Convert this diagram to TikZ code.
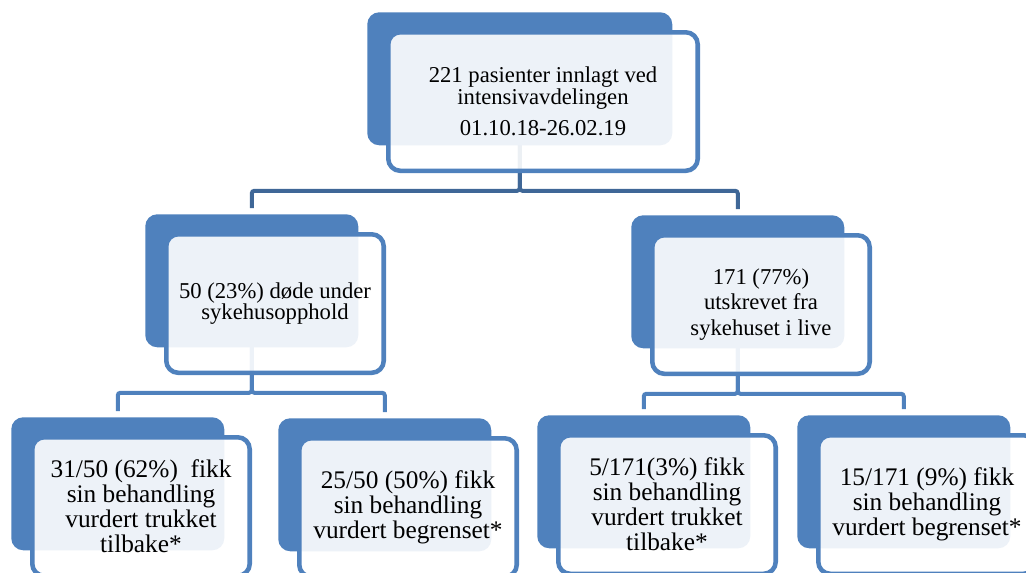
\documentclass[tikz,border=0pt]{standalone}
\usepackage{fontspec}
\setmainfont{Liberation Serif}
\usetikzlibrary{positioning,calc,backgrounds}
\definecolor{smblue}{RGB}{79,129,189}
\definecolor{lnkdark}{RGB}{63,103,151}

\begin{document}
\begin{tikzpicture}[x=0.75pt, y=-0.75pt,
	back/.style={fill=smblue, rounded corners=9pt, inner sep=0pt, minimum height=99.75pt, minimum width=159.75pt, anchor=north west},
	front/.style={draw=smblue, line width=3.4pt, fill=white, fill opacity=0.9, text opacity=1, rounded corners=9pt, inner sep=0pt, minimum height=103.9pt, minimum width=163.1pt, anchor=north west, align=center},
	link/.style={draw=smblue, line width=3pt, rounded corners=2pt, shorten >=4.5pt}]
		\useasboundingbox (0,0) rectangle (1026,572);
		\clip (0,0) rectangle (1026,572);
		\node[back, minimum width=228.75pt] (tb) at (367,12) {};
		\node[front, minimum width=232.1pt, font=\fontsize{17}{15}\selectfont] (t) at ($(tb.north west)+(19,18)$) {221 pasienter innlagt ved\\intensivavdelingen\\[8pt]01.10.18-26.02.19};
		\node[back] (lb) at (145,214) {};
		\node[front, font=\fontsize{17}{16.3}\selectfont] (l) at ($(lb.north west)+(19,18)$) {50 (23\%) døde under\\sykehusopphold};
		\node[back] (rb) at (631,215) {};
		\node[front, font=\fontsize{17}{19}\selectfont] (r) at ($(rb.north west)+(19,18)$) {171 (77\%)\\utskrevet fra\\sykehuset i live};
		\node[back] (ab) at (11,417) {};
		\node[front, font=\fontsize{19}{18.75}\selectfont] (a) at ($(ab.north west)+(19,18)$) {31/50 (62\%)~ fikk\\sin behandling\\vurdert trukket\\tilbake*};
		\node[back] (bb) at (278,418) {};
		\node[front, font=\fontsize{19}{18.75}\selectfont] (b) at ($(bb.north west)+(19,18)$) {25/50 (50\%) fikk\\sin behandling\\vurdert begrenset*};
		\node[back] (cb) at (537,415) {};
		\node[front, font=\fontsize{19}{18.75}\selectfont] (c) at ($(cb.north west)+(19,18)$) {5/171(3\%) fikk\\sin behandling\\vurdert trukket\\tilbake*};
		\node[back] (db) at (797,415) {};
		\node[front, font=\fontsize{19}{18.75}\selectfont] (d) at ($(db.north west)+(19,18)$) {15/171 (9\%) fikk\\sin behandling\\vurdert begrenset*};
		\begin{scope}[on background layer]
			\foreach \to in {lb,rb}
				\draw[link, draw=lnkdark] (tb.center) -- ++(0,112) -| (\to.north);
			\foreach \from/\to in {lb/ab,lb/bb,rb/cb,rb/db}
				\draw[link] (\from.center) -- ++(0,112) -| (\to.north);
		\end{scope}
	\end{tikzpicture}
\end{document}
